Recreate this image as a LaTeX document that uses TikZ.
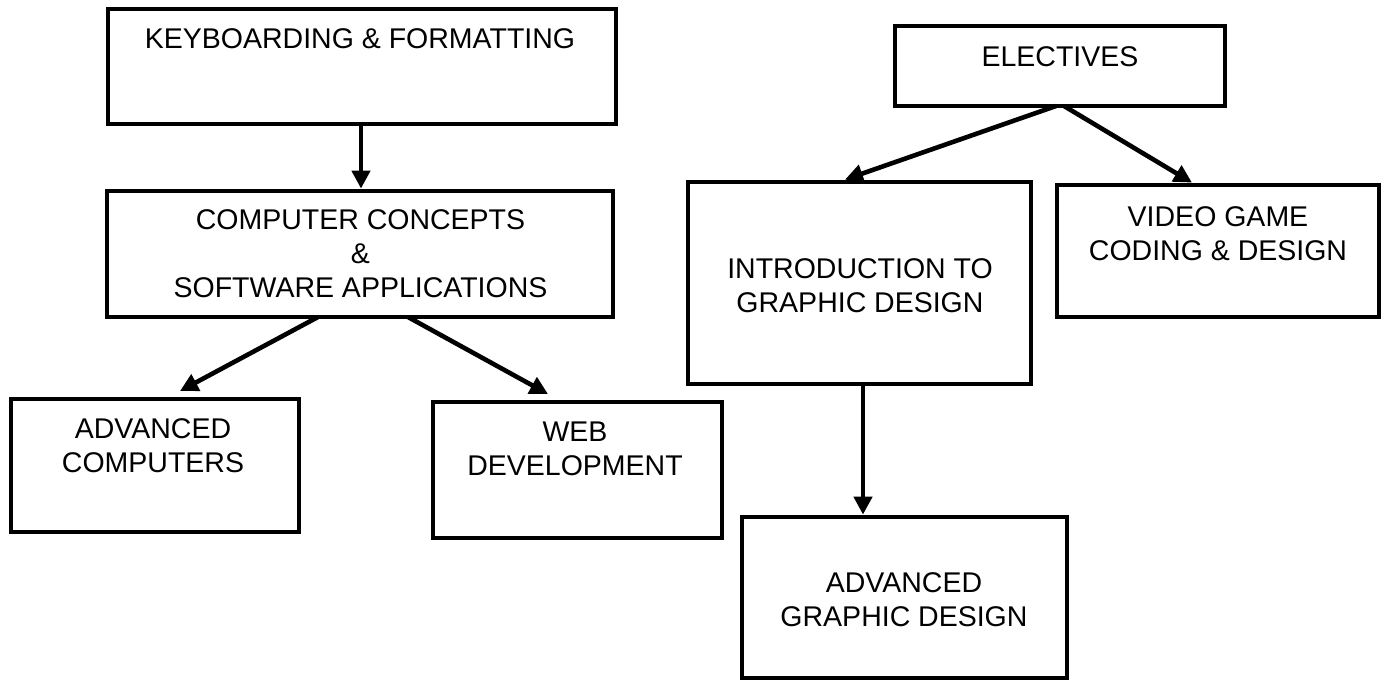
\documentclass[tikz,border=0pt]{standalone}
\usepackage{fontspec}
\setmainfont{Liberation Sans}
\usetikzlibrary{arrows.meta}
\begin{document}
\begin{tikzpicture}[x=0.5pt,y=-0.5pt,
  box/.style={draw, line width=2.4pt, outer sep=0pt, inner sep=0pt},
  lbl/.style={align=center, inner sep=0pt, font=\fontsize{14.25pt}{17pt}\selectfont},
  arr/.style={line width=2.3pt, -{Triangle[width=9pt,length=9pt]}}]
\useasboundingbox (0,0) rectangle (1389,682);
% boxes
\node[box, minimum width=254pt, minimum height=57.5pt] (kb) at (362,66.5) {};
\node[box, minimum width=253pt, minimum height=63pt] (cc) at (360,254) {};
\node[box, minimum width=144pt, minimum height=66.5pt] (ac) at (155,465.5) {};
\node[box, minimum width=144.5pt, minimum height=68pt] (wd) at (577.5,470) {};
\node[box, minimum width=165pt, minimum height=40pt] (el) at (1060,66) {};
\node[box, minimum width=171.5pt, minimum height=101pt] (ig) at (859.5,283) {};
\node[box, minimum width=161pt, minimum height=66pt] (vg) at (1218,251) {};
\node[box, minimum width=162.5pt, minimum height=80.5pt] (ag) at (904.5,597.5) {};
% labels
\node[lbl] (tkb) at (360,38.75) {KEYBOARDING \& FORMATTING};
\node[lbl] (tcc) at (360.5,253.75) {COMPUTER CONCEPTS\\\&\\SOFTWARE APPLICATIONS};
\node[lbl] (tac) at (153,445.75) {ADVANCED\\COMPUTERS};
\node[lbl] (twd) at (575,448.75) {WEB\\DEVELOPMENT};
\node[lbl] (tel) at (1060,56.75) {ELECTIVES};
\node[lbl] (tig) at (860,285.75) {INTRODUCTION TO\\GRAPHIC DESIGN};
\node[lbl] (tvg) at (1218,233.25) {VIDEO GAME\\CODING \& DESIGN};
\node[lbl] (tag) at (904,599.75) {ADVANCED\\GRAPHIC DESIGN};
% connectors
\draw[arr] ([xshift=-0.5pt]kb.south) -- ([xshift=0.5pt,yshift=1.2pt]cc.north);
\draw[arr] ([xshift=-21pt]cc.south) -- ([xshift=12.5pt,yshift=4pt]ac.north);
\draw[arr] ([xshift=24pt]cc.south) -- ([xshift=-14.75pt,yshift=4pt]wd.north);
\draw[arr] ([xshift=-2pt]el.south) -- ([xshift=-7.25pt,yshift=1.2pt]ig.north);
\draw[arr] ([xshift=2pt]el.south) -- ([xshift=-13pt,yshift=1.2pt]vg.north);
\draw[arr] ([xshift=1.75pt]ig.south) -- ([xshift=-20.75pt,yshift=1.2pt]ag.north);
\end{tikzpicture}
\end{document}
